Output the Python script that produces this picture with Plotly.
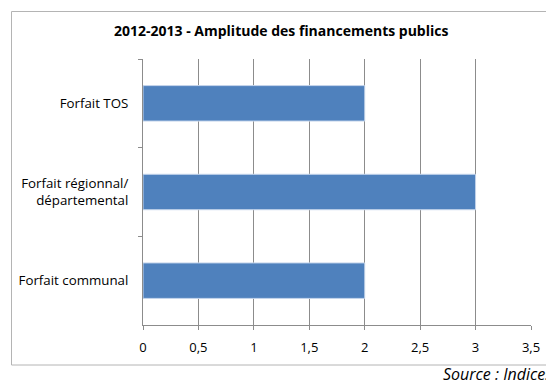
import plotly.graph_objects as go

categories = ["Forfait TOS", "Forfait régionnal/<br>départemental", "Forfait communal"]
values = [2, 3, 2]
title_text = "2012-2013 - Amplitude des financements publics"
source_text = "Source : Indices"

W, H = 546, 382
L, R, T, B = 143, 15, 59, 57
pw, ph = W - L - R, H - T - B

def px_x(p):
    return (p - L) / pw

def px_y(p):
    return (H - B - p) / ph

fig = go.Figure()
fig.add_trace(go.Bar(
    x=values, y=categories, orientation="h",
    marker=dict(color="#4F81BD", line=dict(color="#C6D6EC", width=1)),
    hoverinfo="x+y",
))

font_family = "Open Sans, Liberation Sans, sans-serif"
fig.update_layout(
    width=W, height=H,
    autosize=False,
    margin=dict(l=L, r=R, t=T, b=B, autoexpand=False),
    paper_bgcolor="white", plot_bgcolor="white",
    separators=", ",
    showlegend=False,
    bargap=0.6,
    font=dict(family=font_family, size=12, color="#000000"),
    xaxis=dict(
        range=[0, 3.5], dtick=0.5, tick0=0,
        showgrid=True, gridcolor="#8C8C8C", gridwidth=1,
        showline=True, linecolor="#8C8C8C", linewidth=1,
        ticks="outside", ticklen=4, tickcolor="#8C8C8C",
        zeroline=False, fixedrange=True, automargin=False,
        ticklabelstandoff=6,
        tickfont=dict(size=13),
    ),
    yaxis=dict(
        autorange="reversed",
        showgrid=False,
        showline=True, linecolor="#8C8C8C", linewidth=1,
        ticks="outside", ticklen=4, tickcolor="#8C8C8C",
        tickson="boundaries", automargin=False,
        ticklabelstandoff=11,
        tickfont=dict(size=13.3),
        fixedrange=True,
    ),
    shapes=[dict(
        type="rect", xref="paper", yref="paper",
        x0=px_x(11.5), x1=px_x(570), y0=px_y(365), y1=px_y(11.5),
        line=dict(color="#B4B4B4", width=1), fillcolor="rgba(0,0,0,0)",
        layer="below",
    )],
    annotations=[
        dict(text="<b>" + title_text + "</b>", xref="paper", yref="paper",
             x=px_x(281), y=px_y(31), xanchor="center", yanchor="middle",
             showarrow=False, font=dict(size=14, family=font_family)),
        dict(text="<i>" + source_text + "</i>", xref="paper", yref="paper",
             x=px_x(441), y=px_y(374), xanchor="left", yanchor="middle",
             showarrow=False, font=dict(size=16, family=font_family)),
    ],
)

fig.write_html(
    "out.html",
    config={"displayModeBar": False, "staticPlot": False},
    post_script="document.body.style.margin='0';document.body.style.overflow='hidden';",
)
